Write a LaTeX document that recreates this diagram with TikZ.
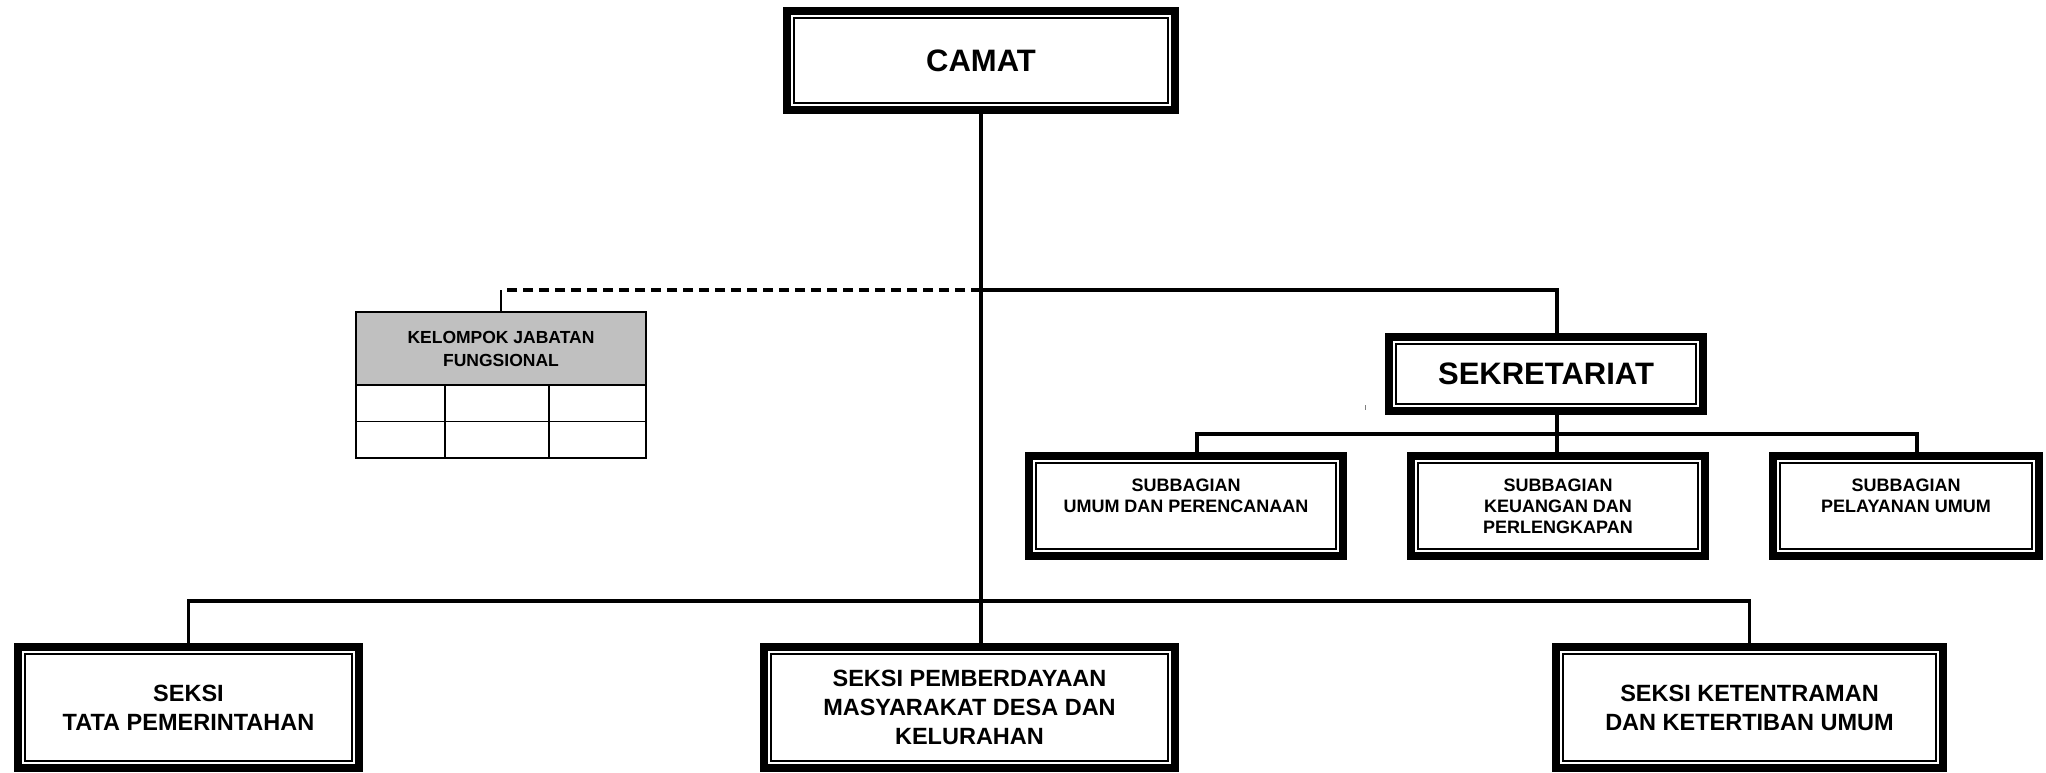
\documentclass[tikz,border=0pt]{standalone}
\usepackage{fontspec}
\setmainfont{Liberation Sans}
\usetikzlibrary{calc}
\definecolor{headgray}{RGB}{192,192,192}
\tikzset{
  unitbox/.style={draw, line width=8pt, line join=miter, outer sep=0pt, inner sep=0pt, align=center},
  innerframe/.style={line width=1.8pt, line join=miter},
  fbig/.style={font=\fontsize{31}{36}\selectfont\bfseries},
  fsub/.style={font=\fontsize{18}{21}\selectfont\bfseries},
  fsec/.style={font=\fontsize{23.5}{29}\selectfont\bfseries},
  fkjf/.style={font=\fontsize{17.5}{23}\selectfont\bfseries},
  link/.style={line width=3.4pt, line cap=rect},
  dashlink/.style={line width=3.2pt, dash pattern=on 10pt off 6pt},
  thinlink/.style={line width=1.6pt},
  grid/.style={line width=1.6pt}
}
\begin{document}
\begin{tikzpicture}[x=1pt,y=-1pt]
\useasboundingbox (0,0) rectangle (2046,773);

% head of the office
\node[unitbox, fbig, minimum width=388pt, minimum height=99pt] (camat) at (981,60.5) {CAMAT};

% secretariat and its subdivisions
\node[unitbox, fbig, minimum width=314pt, minimum height=74pt] (sek) at (1546,374) {SEKRETARIAT};
\node[unitbox, fsub, minimum width=314pt, minimum height=100pt] (sub1) at (1186,506) {SUBBAGIAN\\UMUM DAN PERENCANAAN\\~};
\node[unitbox, fsub, minimum width=294pt, minimum height=100pt] (sub2) at (1558,506) {SUBBAGIAN\\KEUANGAN DAN\\PERLENGKAPAN};
\node[unitbox, fsub, minimum width=266pt, minimum height=100pt] (sub3) at (1906,506) {SUBBAGIAN\\PELAYANAN UMUM\\~};

% sections
\node[unitbox, fsec, minimum width=341pt, minimum height=121pt] (seksiA) at (188.5,707.5) {SEKSI\\TATA PEMERINTAHAN};
\node[unitbox, fsec, minimum width=411pt, minimum height=121pt] (seksiB) at (969.5,707.5) {SEKSI PEMBERDAYAAN\\MASYARAKAT DESA DAN\\KELURAHAN};
\node[unitbox, fsec, minimum width=387pt, minimum height=121pt] (seksiC) at (1749.5,707.5) {SEKSI KETENTRAMAN\\DAN KETERTIBAN UMUM};

% thin inner line of each double frame
\foreach \n in {camat,sek,sub1,sub2,sub3,seksiA,seksiB,seksiC}
  \draw[innerframe] ($(\n.south west)+(7pt,7pt)$) rectangle ($(\n.north east)-(7pt,7pt)$);

% functional group table
\node[draw, grid, fill=headgray, fkjf, align=center, inner sep=0pt, outer sep=0pt,
      minimum width=290pt, minimum height=73pt] (kjf) at (501,348.5) {KELOMPOK JABATAN\\FUNGSIONAL};
\draw[grid] (kjf.south west) rectangle (646,458);
\draw[grid] (356,421.5) -- (646,421.5);
\draw[grid] (445,385) -- (445,458);
\draw[grid] (549,385) -- (549,458);

% junction points
\coordinate (hub) at (981,290);
\coordinate (sekjoin) at (1557,290);
\coordinate (kjfjoin) at (501,290);
\coordinate (subL) at (1197,434);
\coordinate (subM) at (1557,434);
\coordinate (subR) at (1917,434);
\coordinate (busY) at (0,601);

% connectors
\draw[link] (camat.south) -- (camat.south |- seksiB.north);
\draw[link] (hub) -- (sekjoin) -- (sekjoin |- sek.north);
\draw[dashlink] (hub) -- (kjfjoin);
\draw[thinlink] (kjfjoin) -- (kjf.north);
\draw[link] (subM |- sek.south) -- (subM) -- (subM |- sub2.north);
\draw[link] (subL |- sub1.north) -- (subL) -- (subR) -- (subR |- sub3.north);
\draw[link] (seksiA.north) -- (seksiA.north |- busY) -- (seksiC.north |- busY) -- (seksiC.north);

% small stray tick
\draw[gray, line width=0.8pt] (1365,405) -- (1365,410);
\end{tikzpicture}
\end{document}
